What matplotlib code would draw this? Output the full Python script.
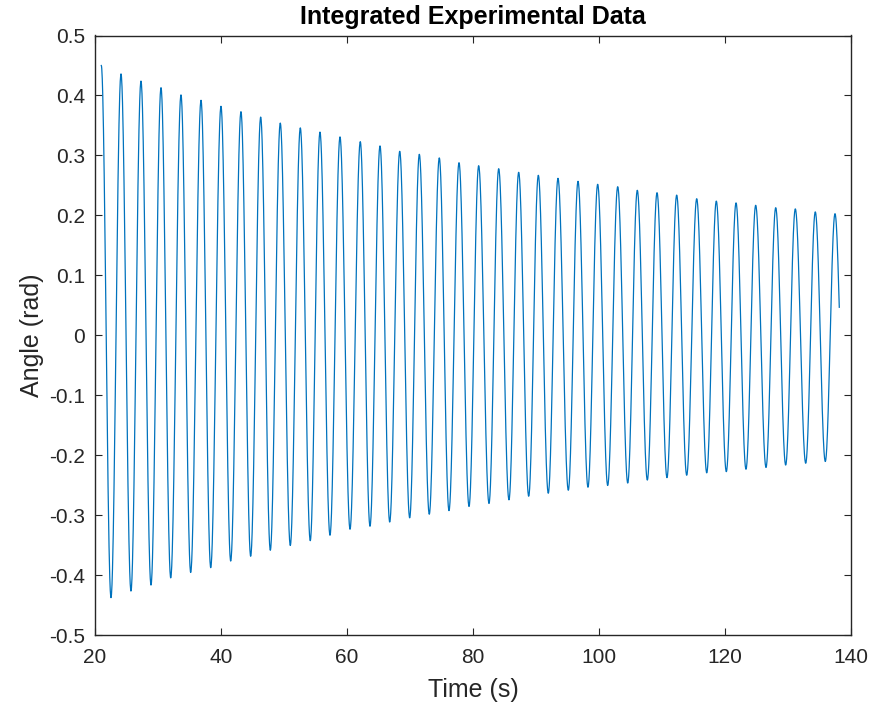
import numpy as np
import matplotlib.pyplot as plt
from matplotlib.ticker import FuncFormatter

# oscillation extrema (time in s, angle in rad)
peak_t = [21.00, 24.13, 27.30, 30.48, 33.65, 36.83, 40.00, 43.17, 46.30, 49.41,
          52.59, 55.71, 58.89, 62.11, 65.24, 68.37, 71.48, 74.65, 77.78, 80.90,
          84.08, 87.25, 90.37, 93.49, 96.67, 99.79, 102.97, 106.08, 109.21, 112.33,
          115.51, 118.62, 121.75, 124.87, 128.05, 131.16, 134.33, 137.46]
peak_v = [0.450, 0.436, 0.424, 0.413, 0.401, 0.392, 0.382, 0.373, 0.364, 0.354,
          0.346, 0.339, 0.331, 0.323, 0.316, 0.307, 0.302, 0.296, 0.288, 0.283,
          0.278, 0.272, 0.267, 0.262, 0.257, 0.252, 0.248, 0.242, 0.238, 0.234,
          0.228, 0.224, 0.221, 0.217, 0.213, 0.211, 0.206, 0.203]
trough_t = [22.54, 25.71, 28.89, 32.02, 35.19, 38.37, 41.54, 44.71, 47.83, 51.00,
            54.17, 57.30, 60.48, 63.65, 66.78, 69.95, 73.06, 76.19, 79.37, 82.54,
            85.71, 88.84, 91.95, 95.13, 98.25, 101.38, 104.56, 107.67, 110.79, 113.92,
            117.10, 120.21, 123.33, 126.51, 129.63, 132.81, 135.92]
trough_v = [-0.437, -0.426, -0.416, -0.404, -0.395, -0.387, -0.376, -0.368, -0.358, -0.350,
            -0.342, -0.333, -0.323, -0.318, -0.311, -0.304, -0.298, -0.292, -0.285, -0.280,
            -0.274, -0.268, -0.263, -0.258, -0.253, -0.250, -0.246, -0.241, -0.237, -0.233,
            -0.229, -0.227, -0.223, -0.220, -0.216, -0.213, -0.210]
end_t = 138.14
end_v = 0.047

# put extrema in time order: peak, trough, peak, ...
ext_t = []
ext_v = []
for i in range(len(peak_t)):
    ext_t.append(peak_t[i]); ext_v.append(peak_v[i])
    if i < len(trough_t):
        ext_t.append(trough_t[i]); ext_v.append(trough_v[i])

# smooth half-cosine between neighbouring extrema
t_all, v_all = [], []
for i in range(len(ext_t) - 1):
    s = np.linspace(0, 1, 40, endpoint=False)
    t_all.append(ext_t[i] + (ext_t[i + 1] - ext_t[i]) * s)
    v_all.append(ext_v[i] + (ext_v[i + 1] - ext_v[i]) * (1 - np.cos(np.pi * s)) / 2)
s = np.linspace(0, 1, 20)
t_all.append(ext_t[-1] + (end_t - ext_t[-1]) * s)
v_all.append(ext_v[-1] + (end_v - ext_v[-1]) * (1 - np.cos(np.pi / 2 * s)))
t_all = np.concatenate(t_all)
v_all = np.concatenate(v_all)

plt.rcParams['font.family'] = ['Liberation Sans', 'DejaVu Sans']
plt.rcParams['axes.unicode_minus'] = False
dark = '#262626'

fig = plt.figure(figsize=(8.73, 7.10), dpi=100)
ax = fig.add_axes([0.1088, 0.105, 0.8660, 0.845])
ax.plot(t_all, v_all, color='#0072BD', linewidth=0.9)

ax.set_xlim(20, 140)
ax.set_ylim(-0.5, 0.5)
ax.set_xticks(np.arange(20, 141, 20))
ax.set_yticks(np.arange(-0.5, 0.51, 0.1))
ax.yaxis.set_major_formatter(FuncFormatter(lambda v, p: '%g' % (round(v, 2) + 0.0)))

for sp in ax.spines.values():
    sp.set_color(dark)
    sp.set_linewidth(1.0)
ax.tick_params(direction='in', length=5, width=0.8, color=dark, labelcolor=dark,
               labelsize=15, top=True, right=True)
ax.tick_params(axis='y', pad=7)
ax.tick_params(axis='x', pad=9)

ax.set_title('Integrated Experimental Data', fontsize=18, fontweight='bold', color='black', pad=8)
ax.set_xlabel('Time (s)', fontsize=18, color=dark, labelpad=8)
ax.set_ylabel('Angle (rad)', fontsize=18, color=dark, labelpad=4)

fig.savefig('out.png', dpi=100)
